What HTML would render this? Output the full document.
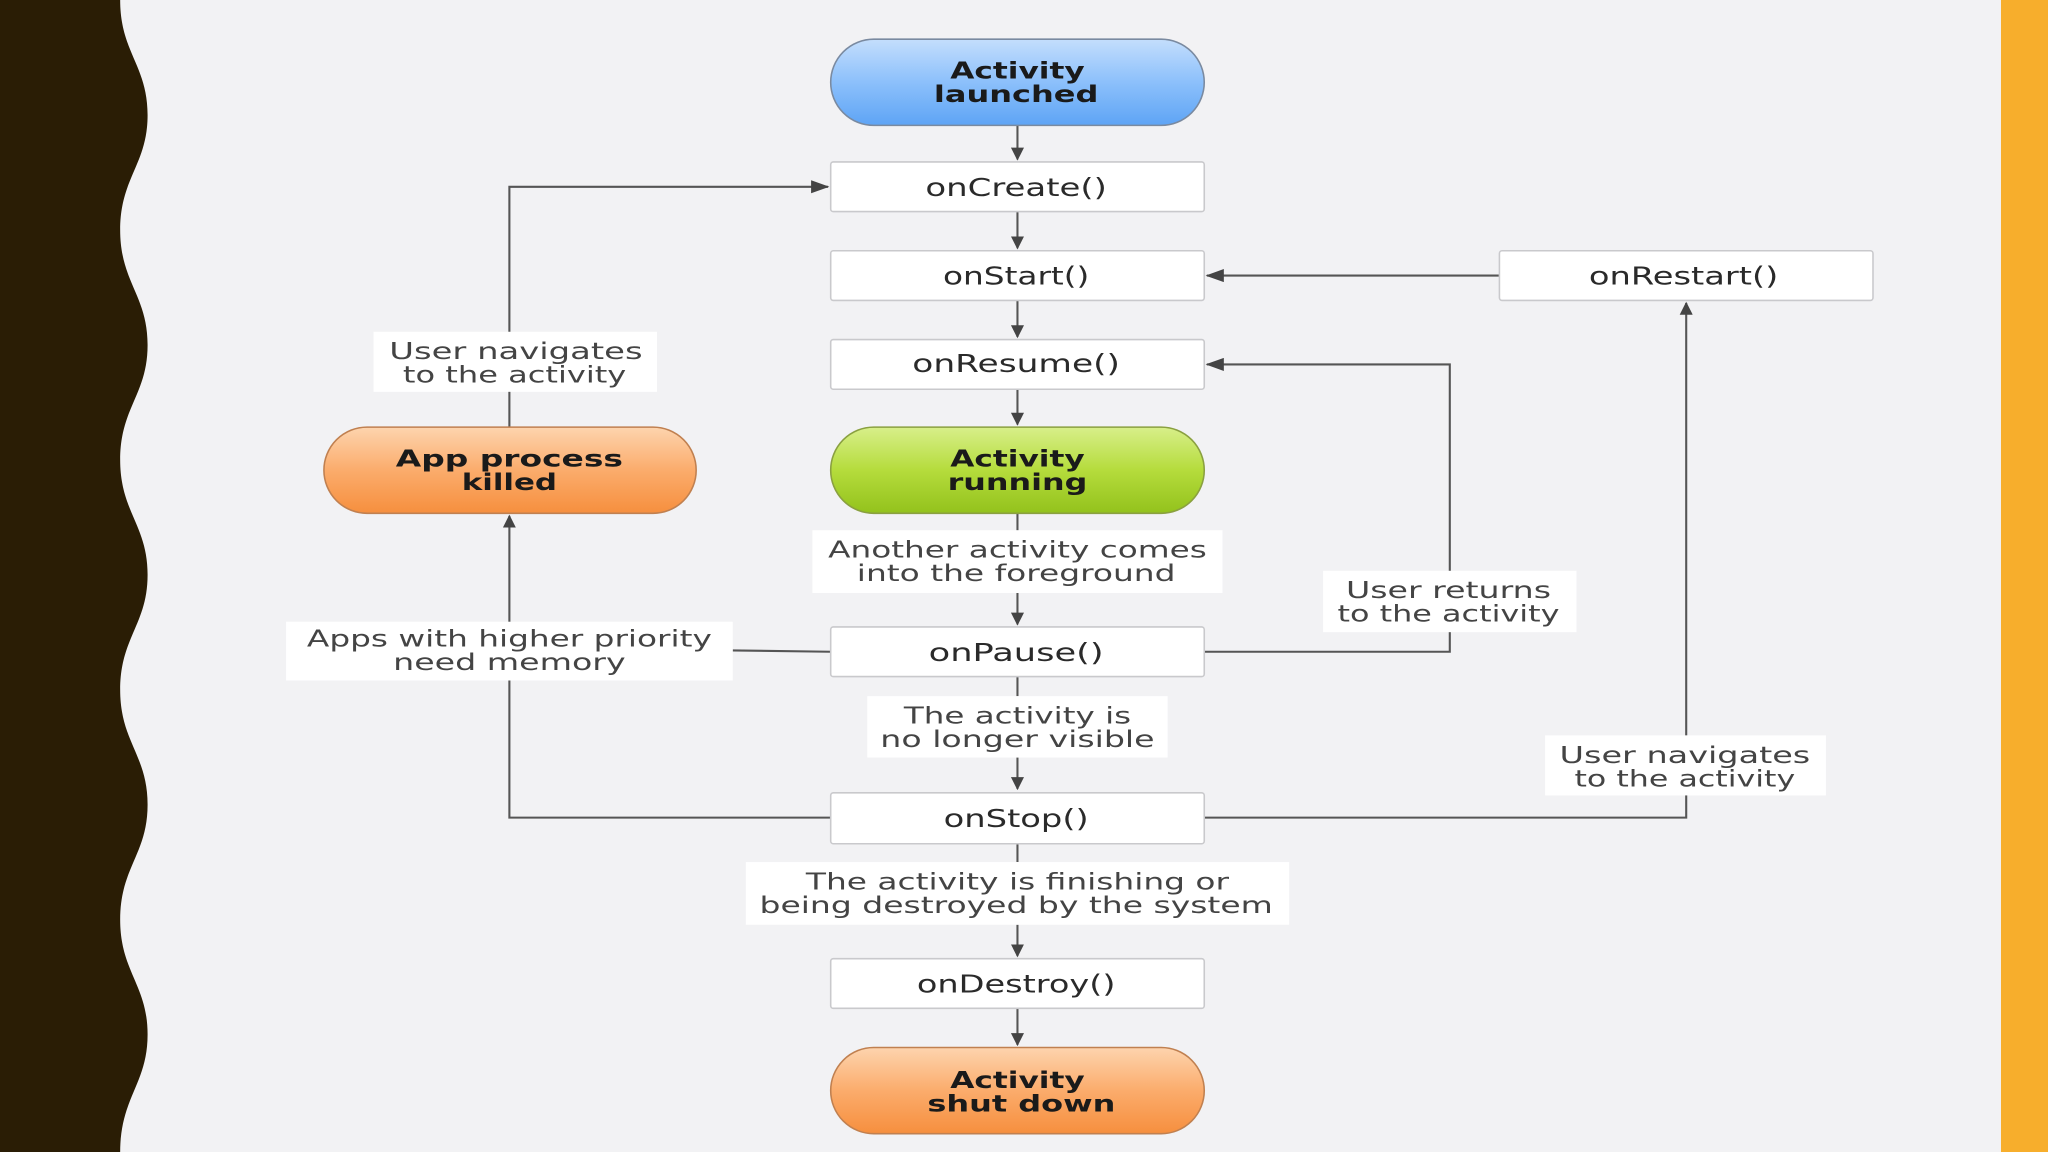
<!DOCTYPE html>
<html><head><meta charset="utf-8"><style>
html,body{margin:0;padding:0;background:#f2f2f4}
svg{display:block}
</style></head><body>
<svg width="2048" height="1152" viewBox="0 0 1568 882" xmlns="http://www.w3.org/2000/svg" font-family="DejaVu Sans, Liberation Sans, sans-serif">
<defs>
<linearGradient id="gb" x1="0" y1="0" x2="0" y2="1"><stop offset="0" stop-color="#c4defc"/><stop offset="0.5" stop-color="#8cc0fb"/><stop offset="1" stop-color="#5ea4f5"/></linearGradient>
<linearGradient id="gg" x1="0" y1="0" x2="0" y2="1"><stop offset="0" stop-color="#d8ef8a"/><stop offset="0.5" stop-color="#b5dc3c"/><stop offset="1" stop-color="#93c21c"/></linearGradient>
<linearGradient id="go" x1="0" y1="0" x2="0" y2="1"><stop offset="0" stop-color="#fdd4ae"/><stop offset="0.5" stop-color="#fbac6c"/><stop offset="1" stop-color="#f68f3e"/></linearGradient>
<marker id="a" markerWidth="10" markerHeight="10" refX="9" refY="5" orient="auto" markerUnits="userSpaceOnUse"><path d="M0,0 L10,5 L0,10 Z" fill="#444"/></marker>
<marker id="w" markerWidth="14" markerHeight="10" refX="13" refY="5" orient="auto" markerUnits="userSpaceOnUse"><path d="M0,0 L14,5 L0,10 Z" fill="#444"/></marker>
</defs>
<rect width="1568" height="882" fill="#f2f2f4"/>
<path d="M0,0 L92,0 C92,40 113,50 113,88 C113,126 92,136 92,176 C92,216 113,226 113,264 C113,302 92,312 92,352 C92,392 113,402 113,440 C113,478 92,488 92,528 C92,568 113,578 113,616 C113,654 92,664 92,704 C92,744 113,754 113,792 C113,830 92,840 92,882 L0,882 Z" fill="#2a1d05"/>
<rect x="1532" y="0" width="36" height="882" fill="#f7ae2c"/>

<g stroke="#555" stroke-width="1.6" fill="none">
<line x1="779" y1="96" x2="779" y2="122" marker-end="url(#a)"/>
<line x1="779" y1="162" x2="779" y2="190" marker-end="url(#a)"/>
<line x1="779" y1="230" x2="779" y2="258" marker-end="url(#a)"/>
<line x1="779" y1="298" x2="779" y2="325" marker-end="url(#a)"/>
<line x1="779" y1="393" x2="779" y2="406"/>
<line x1="779" y1="454" x2="779" y2="478" marker-end="url(#a)"/>
<line x1="779" y1="518" x2="779" y2="533"/>
<line x1="779" y1="580" x2="779" y2="604" marker-end="url(#a)"/>
<line x1="779" y1="646" x2="779" y2="660"/>
<line x1="779" y1="708" x2="779" y2="732" marker-end="url(#a)"/>
<line x1="779" y1="772" x2="779" y2="800" marker-end="url(#a)"/>
<polyline points="636,626 390,626 390,395" marker-end="url(#a)"/>
<polyline points="390,327 390,143 634,143" marker-end="url(#w)"/>
<line x1="636" y1="499" x2="561" y2="498"/>
<polyline points="922,499 1110,499 1110,279 924,279" marker-end="url(#w)"/>
<polyline points="922,626 1291,626 1291,232" marker-end="url(#a)"/>
<line x1="1148" y1="211" x2="924" y2="211" marker-end="url(#w)"/>
</g>

<g stroke="#c9c9cc" stroke-width="1.2" fill="#fff">
<rect x="636" y="124" width="286" height="38" rx="2"/>
<rect x="636" y="192" width="286" height="38" rx="2"/>
<rect x="636" y="260" width="286" height="38" rx="2"/>
<rect x="636" y="480" width="286" height="38" rx="2"/>
<rect x="636" y="607" width="286" height="39" rx="2"/>
<rect x="636" y="734" width="286" height="38" rx="2"/>
<rect x="1148" y="192" width="286" height="38" rx="2"/>
</g>
<g fill="#fff">
<rect x="622" y="406" width="314" height="48"/>
<rect x="664" y="533" width="230" height="47"/>
<rect x="571" y="660" width="416" height="48"/>
<rect x="286" y="254" width="217" height="46"/>
<rect x="219" y="476" width="342" height="45"/>
<rect x="1013" y="437" width="194" height="47"/>
<rect x="1183" y="563" width="215" height="46"/>
</g>
<g stroke="#7a8aa0" stroke-width="1.2">
<rect x="636" y="30" width="286" height="66" rx="33" fill="url(#gb)"/>
<rect x="636" y="327" width="286" height="66" rx="33" fill="url(#gg)" stroke="#8aa040"/>
<rect x="636" y="802" width="286" height="66" rx="33" fill="url(#go)" stroke="#c08050"/>
<rect x="248" y="327" width="285" height="66" rx="33" fill="url(#go)" stroke="#c08050"/>
</g>

<g font-weight="bold" font-size="18" fill="#1a1a1a" text-anchor="middle" lengthAdjust="spacingAndGlyphs">
<text x="779" y="60" textLength="103" lengthAdjust="spacingAndGlyphs">Activity</text><text x="778" y="78" textLength="126" lengthAdjust="spacingAndGlyphs">launched</text>
<text x="779" y="357" textLength="103" lengthAdjust="spacingAndGlyphs">Activity</text><text x="779" y="375" textLength="107" lengthAdjust="spacingAndGlyphs">running</text>
<text x="779" y="833" textLength="103" lengthAdjust="spacingAndGlyphs">Activity</text><text x="782" y="851" textLength="144" lengthAdjust="spacingAndGlyphs">shut down</text>
<text x="390" y="357" textLength="174" lengthAdjust="spacingAndGlyphs">App process</text><text x="390" y="375" textLength="73" lengthAdjust="spacingAndGlyphs">killed</text>
</g>
<g font-size="19" fill="#2a2a2a" text-anchor="middle">
<text x="778" y="150" textLength="139" lengthAdjust="spacingAndGlyphs">onCreate()</text>
<text x="778" y="218" textLength="112" lengthAdjust="spacingAndGlyphs">onStart()</text>
<text x="778" y="285" textLength="159" lengthAdjust="spacingAndGlyphs">onResume()</text>
<text x="778" y="506" textLength="134" lengthAdjust="spacingAndGlyphs">onPause()</text>
<text x="778" y="633" textLength="111" lengthAdjust="spacingAndGlyphs">onStop()</text>
<text x="778" y="760" textLength="152" lengthAdjust="spacingAndGlyphs">onDestroy()</text>
<text x="1289" y="218" textLength="145" lengthAdjust="spacingAndGlyphs">onRestart()</text>
</g>
<g font-size="17.5" fill="#444" text-anchor="middle">
<text x="779" y="427" textLength="290" lengthAdjust="spacingAndGlyphs">Another activity comes</text><text x="778" y="445" textLength="244" lengthAdjust="spacingAndGlyphs">into the foreground</text>
<text x="779" y="554" textLength="174" lengthAdjust="spacingAndGlyphs">The activity is</text><text x="779" y="572" textLength="210" lengthAdjust="spacingAndGlyphs">no longer visible</text>
<text x="779" y="681" textLength="324" lengthAdjust="spacingAndGlyphs">The activity is finishing or</text><text x="778" y="699" textLength="393" lengthAdjust="spacingAndGlyphs">being destroyed by the system</text>
<text x="395" y="275" textLength="194" lengthAdjust="spacingAndGlyphs">User navigates</text><text x="394" y="293" textLength="171" lengthAdjust="spacingAndGlyphs">to the activity</text>
<text x="390" y="495" textLength="310" lengthAdjust="spacingAndGlyphs">Apps with higher priority</text><text x="390" y="513" textLength="178" lengthAdjust="spacingAndGlyphs">need memory</text>
<text x="1109" y="458" textLength="157" lengthAdjust="spacingAndGlyphs">User returns</text><text x="1109" y="476" textLength="170" lengthAdjust="spacingAndGlyphs">to the activity</text>
<text x="1290" y="584" textLength="192" lengthAdjust="spacingAndGlyphs">User navigates</text><text x="1290" y="602" textLength="169" lengthAdjust="spacingAndGlyphs">to the activity</text>
</g>
</svg>
</body></html>
